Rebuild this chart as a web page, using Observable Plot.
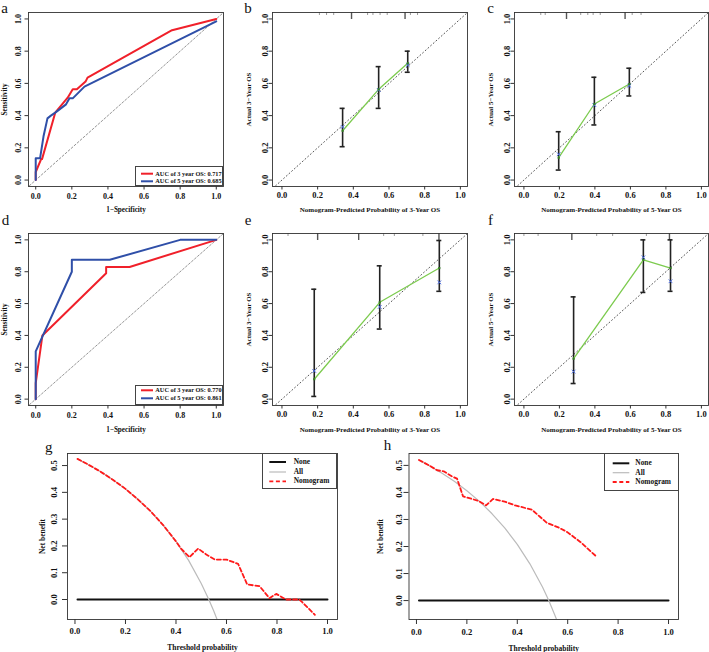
<!DOCTYPE html>
<html><head><meta charset="utf-8">
<script src="https://cdn.jsdelivr.net/npm/d3@7"></script>
<script src="https://cdn.jsdelivr.net/npm/@observablehq/plot@0.6"></script>
<style>
body{margin:0;background:#fff}
#fig{position:relative;width:709px;height:652px;background:#fff;overflow:hidden;font-family:"Liberation Serif","Times New Roman",serif}
#fig svg{position:absolute}
.lg{position:absolute;border:1px solid #444;box-sizing:border-box;background:#fff}
.lg span{position:absolute;white-space:nowrap;font-weight:bold;line-height:1;transform:translateY(-50%);color:#111}
.lg svg{position:absolute;left:0;top:0;overflow:visible}
</style></head>
<body><div id="fig"></div>
<script>
// ================= DATA =================
const axisTicks = [0, 0.2, 0.4, 0.6, 0.8, 1.0];
const nbTicks = [0, 0.1, 0.2, 0.3, 0.4, 0.5];
const diagLine = [-0.2, 1.2];

// ROC (a): training set
const aRed3X  = [0, 0, 0.03, 0.035, 0.108, 0.177, 0.205, 0.228, 0.276, 0.287, 0.755, 1];
const aRed3Y  = [0, 0.05, 0.13, 0.13, 0.418, 0.511, 0.563, 0.563, 0.611, 0.636, 0.93, 1];
const aBlue5X = [0, 0, 0.024, 0.043, 0.065, 0.084, 0.11, 0.168, 0.187, 0.205, 0.27, 1];
const aBlue5Y = [0, 0.135, 0.135, 0.27, 0.383, 0.40, 0.42, 0.47, 0.507, 0.507, 0.58, 0.985];
const aLegend = ["AUC of 3 year OS: 0.717", "AUC of 5 year OS: 0.685"];
// ROC (d): validation set
const dRed3X  = [0, 0, 0.037, 0.39, 0.39, 0.52, 1];
const dRed3Y  = [0, 0.10, 0.40, 0.79, 0.83, 0.83, 1];
const dBlue5X = [0, 0, 0.20, 0.20, 0.41, 0.80, 1];
const dBlue5Y = [0, 0.30, 0.80, 0.875, 0.875, 1, 1];
const dLegend = ["AUC of 3 year OS: 0.770", "AUC of 5 year OS: 0.861"];

// Calibration (b) 3-year, training
const bPred = [0.34, 0.542, 0.705], bObs = [0.306, 0.563, 0.725], bApp = [0.33, 0.56, 0.714];
const bLo = [0.207, 0.445, 0.669], bHi = [0.445, 0.704, 0.80];
const bRugShort = [0.21, 0.25, 0.29, 0.48, 0.51, 0.55, 0.59, 0.72, 0.76], bRugTall = [0.39, 0.69];
// Calibration (c) 5-year, training
const cPred = [0.196, 0.397, 0.594], cObs = [0.139, 0.472, 0.596], cApp = [0.16, 0.465, 0.585];
const cLo = [0.062, 0.342, 0.522], cHi = [0.30, 0.638, 0.694];
const cRugShort = [0.095, 0.12, 0.32, 0.36, 0.39, 0.43, 0.61, 0.66], cRugTall = [0.24, 0.57];
// Calibration (e) 3-year, validation
const ePred = [0.181, 0.548, 0.882], eObs = [0.125, 0.608, 0.823], eApp = [0.177, 0.579, 0.733];
const eLo = [0.017, 0.44, 0.677], eHi = [0.69, 0.837, 0.996];
const eRugShort = [0.034, 0.57, 0.63, 0.79], eRugTall = [0.20, 0.43, 0.88];
// Calibration (f) 5-year, validation
const fPred = [0.28, 0.673, 0.826], fObs = [0.254, 0.875, 0.823], fApp = [0.173, 0.89, 0.74];
const fLo = [0.098, 0.67, 0.677], fHi = [0.642, 1.0, 1.0];
const fRugShort = [0.0, 0.08, 0.41, 0.50, 0.69], fRugTall = [0.27, 0.82];

// Decision curves (g)
const gAllT = [0.01, 0.05, 0.1, 0.15, 0.2, 0.25, 0.3, 0.35, 0.4, 0.45, 0.5, 0.53, 0.55, 0.565];
const gAllNB = [0.525, 0.505, 0.478, 0.447, 0.413, 0.373, 0.329, 0.277, 0.217, 0.146, 0.06, 0, -0.044, -0.08];
const gNomT = [0.01, 0.05, 0.1, 0.15, 0.2, 0.25, 0.3, 0.35, 0.4, 0.42, 0.453, 0.488, 0.52, 0.554, 0.6, 0.646, 0.682, 0.731, 0.77, 0.797, 0.836, 0.888, 0.9, 0.95];
const gNomNB = [0.525, 0.505, 0.478, 0.447, 0.413, 0.373, 0.329, 0.277, 0.217, 0.19, 0.158, 0.19, 0.168, 0.149, 0.149, 0.133, 0.056, 0.05, 0.005, 0.021, 0, 0, -0.01, -0.057];
// Decision curves (h)
const hAllT = [0.01, 0.05, 0.1, 0.15, 0.2, 0.25, 0.3, 0.35, 0.4, 0.45, 0.5, 0.525, 0.55, 0.56];
const hAllNB = [0.52, 0.50, 0.472, 0.441, 0.406, 0.367, 0.321, 0.269, 0.208, 0.136, 0.05, 0, -0.056, -0.08];
const hNomT = [0.01, 0.05, 0.082, 0.108, 0.14, 0.161, 0.185, 0.22, 0.247, 0.276, 0.304, 0.35, 0.392, 0.458, 0.49, 0.518, 0.56, 0.597, 0.65, 0.716];
const hNomNB = [0.52, 0.50, 0.482, 0.478, 0.46, 0.451, 0.385, 0.376, 0.368, 0.352, 0.376, 0.366, 0.352, 0.336, 0.31, 0.287, 0.272, 0.254, 0.217, 0.161];
const noneT = [0.01, 1.0], noneNB = [0, 0];
const dcaLegend = ["None", "All", "Nomogram"];

// ================= HELPERS =================
const SERIF = "'Liberation Serif','Times New Roman',serif";
const RED = "#F0202A", BLUE = "#2F4FA8", GREEN = "#7CCB4E";
const fmt = d => d.toFixed(1);
const rows = (xs, ys) => xs.map((x, i) => ({x, y: ys[i]}));
const fig = document.getElementById("fig");

function place(svg, left, top) {
  svg.style.left = left + "px"; svg.style.top = top + "px";
  fig.appendChild(svg);
}

function frameAxes(o) {
  return [
    Plot.frame({stroke: "#333", strokeWidth: 0.9}),
    Plot.axisX({ticks: o.xTicks, tickSize: o.tickSize, tickFormat: () => "", label: null, stroke: "#333"}),
    Plot.axisY({ticks: o.yTicks, tickSize: o.tickSize, tickFormat: () => "", label: null, stroke: "#333"}),
    Plot.text(o.xTicks, {x: d => d, text: fmt, frameAnchor: "bottom", dy: o.xdy, lineAnchor: "middle", fontSize: o.fs, fontWeight: "bold", fill: "#111"}),
    Plot.text(o.yTicks, {y: d => d, text: fmt, frameAnchor: "left", dx: o.ydx, rotate: -90, textAnchor: "middle", lineAnchor: "middle", fontSize: o.fs, fontWeight: "bold", fill: "#111"}),
    Plot.text([o.xTitle], {text: d => d, frameAnchor: "bottom", dy: o.xtdy, lineAnchor: "middle", fontSize: o.tfs, fontWeight: "bold", fill: "#111"}),
    Plot.text([o.yTitle], {text: d => d, frameAnchor: "left", dx: o.ytdx, rotate: -90, textAnchor: "middle", lineAnchor: "middle", fontSize: o.tfs, fontWeight: "bold", fill: "#111"}),
    Plot.text([o.letter], {text: d => d, frameAnchor: "top-left", dx: o.ldx, dy: o.ldy, textAnchor: "middle", lineAnchor: "middle", fontSize: 15, fontWeight: "normal", fill: "#111"})
  ];
}

const baseStyle = {background: "transparent", overflow: "visible", fontFamily: SERIF};

function rocPlot(p) {
  return Plot.plot({
    width: p.w, height: p.h, marginLeft: p.ml, marginRight: p.mr, marginTop: p.mt, marginBottom: p.mb,
    x: {domain: [-0.04, 1.04]}, y: {domain: [-0.04, 1.04]}, style: baseStyle,
    marks: [
      Plot.line(rows(diagLine, diagLine), {x: "x", y: "y", stroke: "#777", strokeWidth: 0.8, strokeDasharray: "2,2", clip: true}),
      Plot.line(rows(p.redX, p.redY), {x: "x", y: "y", stroke: RED, strokeWidth: 2}),
      Plot.line(rows(p.blueX, p.blueY), {x: "x", y: "y", stroke: BLUE, strokeWidth: 2}),
      ...frameAxes({xTicks: axisTicks, yTicks: axisTicks, tickSize: 3.5, fs: 8, tfs: 7.2, xdy: 10, ydx: -10,
        xtdy: p.xtdy, ytdx: -23.5, xTitle: "1\u2212Specificity", yTitle: "Sensitivity", letter: p.letter, ldx: p.ldx, ldy: p.ldy})
    ]
  });
}

function calPlot(p) {
  const pts = p.pred.map((x, i) => ({x, obs: p.obs[i], app: p.app[i], lo: p.lo[i], hi: p.hi[i]}));
  const fh = p.h - p.mt - p.mb;
  return Plot.plot({
    width: p.w, height: p.h, marginLeft: p.ml, marginRight: p.mr, marginTop: p.mt, marginBottom: p.mb,
    x: {domain: [-0.053, 1.04]}, y: {domain: [-0.04, 1.04]}, style: baseStyle,
    marks: [
      Plot.line(rows(diagLine, diagLine), {x: "x", y: "y", stroke: "#555", strokeWidth: 1, strokeDasharray: "1,2.6", clip: true}),
      Plot.ruleX(p.rugShort, {x: d => d, insetBottom: fh - 3, stroke: "#999", strokeWidth: 1}),
      Plot.ruleX(p.rugTall, {x: d => d, insetBottom: fh - 7, stroke: "#555", strokeWidth: 1.4}),
      Plot.ruleX(pts, {x: "x", y1: "lo", y2: "hi", stroke: "#222", strokeWidth: 1.6}),
      Plot.ruleY(pts, {y: "lo", x1: "x", x2: "x", insetLeft: -2.5, insetRight: -2.5, stroke: "#222", strokeWidth: 1.6}),
      Plot.ruleY(pts, {y: "hi", x1: "x", x2: "x", insetLeft: -2.5, insetRight: -2.5, stroke: "#222", strokeWidth: 1.6}),
      Plot.line(pts, {x: "x", y: "obs", stroke: GREEN, strokeWidth: 1.3}),
      Plot.dot(pts, {x: "x", y: "app", symbol: "times", r: 1.8, stroke: "#4A6BE0", strokeWidth: 1}),
      Plot.dot(pts, {x: "x", y: "obs", symbol: "square", r: 1.2, fill: "#2F7A22"}),
      ...frameAxes({xTicks: axisTicks, yTicks: axisTicks, tickSize: 3.5, fs: 8.5, tfs: 7, xdy: 9, ydx: -7,
        xtdy: p.xtdy, ytdx: -24, xTitle: p.xTitle, yTitle: p.yTitle, letter: p.letter, ldx: p.ldx, ldy: p.ldy})
    ]
  });
}

function dcaPlot(p) {
  return Plot.plot({
    width: p.w, height: p.h, marginLeft: p.ml, marginRight: p.mr, marginTop: p.mt, marginBottom: p.mb,
    x: {domain: [-0.0296, 1.0396]}, y: {domain: p.ydom}, style: baseStyle,
    marks: [
      Plot.line(rows(noneT, noneNB), {x: "x", y: "y", stroke: "#111", strokeWidth: 2}),
      Plot.line(rows(p.allT, p.allNB), {x: "x", y: "y", stroke: "#BBBBBB", strokeWidth: 1.2, clip: true}),
      Plot.line(rows(p.nomT, p.nomNB), {x: "x", y: "y", stroke: "#FF1A1A", strokeWidth: 1.8, strokeDasharray: "4,2.6", clip: true}),
      ...frameAxes({xTicks: axisTicks, yTicks: nbTicks, tickSize: 5, fs: 8.6, tfs: 7.5, xdy: p.xdy, ydx: p.ydx,
        xtdy: p.xtdy, ytdx: p.ytdx, xTitle: "Threshold probability", yTitle: "Net benefit", letter: p.letter, ldx: p.ldx, ldy: p.ldy})
    ]
  });
}

function legend(o) {
  const box = document.createElement("div");
  box.className = "lg";
  box.style.cssText = `left:${o.left}px;top:${o.top}px;width:${o.w}px;height:${o.h}px`;
  const ns = "http://www.w3.org/2000/svg";
  const sv = document.createElementNS(ns, "svg");
  sv.setAttribute("width", o.w); sv.setAttribute("height", o.h);
  o.labels.forEach((lab, i) => {
    const st = o.styles[i];
    const ln = document.createElementNS(ns, "line");
    ln.setAttribute("x1", o.x1); ln.setAttribute("x2", o.x2);
    ln.setAttribute("y1", o.ys[i]); ln.setAttribute("y2", o.ys[i]);
    ln.setAttribute("stroke", st.c); ln.setAttribute("stroke-width", st.w);
    if (st.d) ln.setAttribute("stroke-dasharray", st.d);
    sv.appendChild(ln);
    const sp = document.createElement("span");
    sp.textContent = lab;
    sp.style.cssText = `left:${o.tx}px;top:${o.ys[i]}px;font-size:${o.fs}px`;
    box.appendChild(sp);
  });
  box.prepend(sv);
  fig.appendChild(box);
}

// ================= PANELS =================
// Row 1
place(rocPlot({w: 237, h: 215, ml: 28, mr: 14, mt: 12, mb: 29, xtdy: 23,
  redX: aRed3X, redY: aRed3Y, blueX: aBlue5X, blueY: aBlue5Y, letter: "a", ldx: -24, ldy: -4}), 0, 0);
place(calPlot({w: 236, h: 215, ml: 35, mr: 6, mt: 12, mb: 29, xtdy: 23,
  pred: bPred, obs: bObs, app: bApp, lo: bLo, hi: bHi, rugShort: bRugShort, rugTall: bRugTall,
  xTitle: "Nomogram-Predicted Probability of 3-Year OS", yTitle: "Actual 3\u2212Year OS", letter: "b", ldx: -24.5, ldy: -4}), 237, 0);
place(calPlot({w: 236, h: 215, ml: 41, mr: 1, mt: 12, mb: 29, xtdy: 23,
  pred: cPred, obs: cObs, app: cApp, lo: cLo, hi: cHi, rugShort: cRugShort, rugTall: cRugTall,
  xTitle: "Nomogram-Predicted Probability of 5-Year OS", yTitle: "Actual 5\u2212Year OS", letter: "c", ldx: -24, ldy: -4}), 473, 0);
// Row 2
place(rocPlot({w: 237, h: 215, ml: 28, mr: 14, mt: 18, mb: 25, xtdy: 24,
  redX: dRed3X, redY: dRed3Y, blueX: dBlue5X, blueY: dBlue5Y, letter: "d", ldx: -23, ldy: -13}), 0, 215);
place(calPlot({w: 236, h: 215, ml: 35, mr: 6, mt: 18, mb: 25, xtdy: 24,
  pred: ePred, obs: eObs, app: eApp, lo: eLo, hi: eHi, rugShort: eRugShort, rugTall: eRugTall,
  xTitle: "Nomogram-Predicted Probability of 3-Year OS", yTitle: "Actual 3\u2212Year OS", letter: "e", ldx: -24.5, ldy: -13}), 237, 215);
place(calPlot({w: 236, h: 215, ml: 41, mr: 1, mt: 18, mb: 25, xtdy: 24,
  pred: fPred, obs: fObs, app: fApp, lo: fLo, hi: fHi, rugShort: fRugShort, rugTall: fRugTall,
  xTitle: "Nomogram-Predicted Probability of 5-Year OS", yTitle: "Actual 5\u2212Year OS", letter: "f", ldx: -24, ldy: -13}), 473, 215);
// Row 3
place(dcaPlot({w: 355, h: 222, ml: 67, mr: 18, mt: 23, mb: 33, ydom: [-0.0746, 0.545],
  allT: gAllT, allNB: gAllNB, nomT: gNomT, nomNB: gNomNB,
  xdy: 11.7, ydx: -13.7, xtdy: 28.3, ytdx: -25.3, letter: "g", ldx: -18.7, ldy: -6.3}), 0, 430);
place(dcaPlot({w: 354, h: 222, ml: 53.5, mr: 31, mt: 23, mb: 33, ydom: [-0.07, 0.544],
  allT: hAllT, allNB: hAllNB, nomT: hNomT, nomNB: hNomNB,
  xdy: 12.7, ydx: -10.2, xtdy: 29.3, ytdx: -28.5, letter: "h", ldx: -21.5, ldy: -8}), 355, 430);

// Legends
const rocStyles = [{c: RED, w: 2}, {c: BLUE, w: 2}];
const dcaStyles = [{c: "#111", w: 2}, {c: "#BBBBBB", w: 1.2}, {c: "#FF1A1A", w: 1.8, d: "4,2.6"}];
legend({left: 135, top: 166, w: 88, h: 20, labels: aLegend, styles: rocStyles, ys: [6.7, 14.3], x1: 5, x2: 17, tx: 19.3, fs: 6.3});
legend({left: 135, top: 385, w: 88, h: 20, labels: dLegend, styles: rocStyles, ys: [4.3, 12.3], x1: 5, x2: 17, tx: 19.3, fs: 6.3});
legend({left: 262, top: 453, w: 75, h: 36, labels: dcaLegend, styles: dcaStyles, ys: [8, 18, 27.3], x1: 6.3, x2: 23, tx: 30.7, fs: 7.4});
legend({left: 604, top: 453, w: 75, h: 38, labels: dcaLegend, styles: dcaStyles, ys: [9.3, 18.7, 28], x1: 7.7, x2: 24.3, tx: 30.3, fs: 7.4});
</script></body></html>
